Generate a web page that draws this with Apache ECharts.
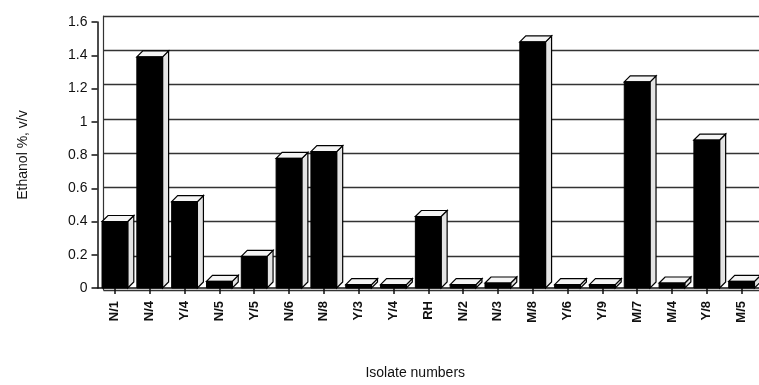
<!DOCTYPE html>
<html>
<head>
<meta charset="utf-8">
<script src="https://cdn.jsdelivr.net/npm/echarts@6/dist/echarts.min.js"></script>
<style>html,body{margin:0;padding:0;background:#fff}#c{width:759px;height:385px}</style>
</head>
<body>
<div id="c"></div>
<script>
const categories = ['N/1','N/4','Y/4','N/5','Y/5','N/6','N/8','Y/3','Y/4','RH','N/2','N/3','M/8','Y/6','Y/9','M/7','M/4','Y/8','M/5'];
const ethanol = [0.40,1.39,0.52,0.04,0.19,0.78,0.82,0.02,0.02,0.43,0.02,0.03,1.48,0.02,0.02,1.24,0.03,0.89,0.04];
const yTicks = [0,0.2,0.4,0.6,0.8,1,1.2,1.4,1.6];
const yName = 'Ethanol %, v/v';
const xName = 'Isolate numbers';

const font = 'Liberation Sans, Arial, sans-serif';
const DX = 6, DY = 6;

const chart = echarts.init(document.getElementById('c'), null, {renderer:'canvas'});
chart.setOption({
  animation:false,
  backgroundColor:'#fff',
  grid:[
    {left:97.5, right:0, top:22, bottom:89, containLabel:false},
    {left:97.5+DX, right:-DX, top:22-DY, bottom:89+DY, containLabel:false}
  ],
  xAxis:[
    {type:'category', gridIndex:0, data:categories,
     axisLine:{show:true, lineStyle:{color:'#111', width:1.5}},
     axisTick:{show:true, alignWithLabel:true, length:6, lineStyle:{color:'#111', width:1.5}},
     axisLabel:{rotate:90, margin:13, fontFamily:font, fontSize:13, fontWeight:'bold', color:'#111'},
     name:xName, nameLocation:'middle', nameGap:78,
     nameTextStyle:{fontFamily:font, fontSize:14, color:'#111', padding:[0,26,0,0]}},
    {type:'category', gridIndex:1, data:categories, show:false}
  ],
  yAxis:[
    {type:'value', gridIndex:0, min:yTicks[0], max:yTicks[yTicks.length-1], interval:0.2,
     axisLine:{show:true, lineStyle:{color:'#111', width:1.5}},
     axisTick:{show:true, length:6, lineStyle:{color:'#111', width:1.5}},
     splitLine:{show:false},
     axisLabel:{margin:10, fontFamily:font, fontSize:14, color:'#111', padding:[6,0,0,0],
       formatter:v=>String(Math.round(v*10)/10)},
     name:yName, nameLocation:'middle', nameGap:67,
     nameTextStyle:{fontFamily:font, fontSize:14, color:'#111'}},
    {type:'value', gridIndex:1, min:yTicks[0], max:yTicks[yTicks.length-1], interval:0.2,
     axisLine:{show:true, lineStyle:{color:'#333', width:1.2}},
     axisTick:{show:false}, axisLabel:{show:false},
     splitLine:{show:true, lineStyle:{color:'#333', width:1.3}}}
  ],
  series:[{
    type:'custom', xAxisIndex:0, yAxisIndex:0,
    data:ethanol.map((v,i)=>[i,v]),
    renderItem:function(params, api){
      const top = api.coord([api.value(0), api.value(1)]);
      const base = api.coord([api.value(0), 0]);
      const bw = api.size([1,0])[0]*0.74;
      const x0 = top[0]-bw/2, x1 = top[0]+bw/2, yt = top[1], yb = base[1];
      const ls = {stroke:'#000', lineWidth:1.2};
      return {type:'group', children:[
        {type:'polygon', shape:{points:[[x1,yt],[x1+DX,yt-DY],[x1+DX,yb-DY],[x1,yb]]},
         style:Object.assign({fill:'#e4e4e4'}, ls)},
        {type:'polygon', shape:{points:[[x0,yt],[x0+DX,yt-DY],[x1+DX,yt-DY],[x1,yt]]},
         style:Object.assign({fill:'#f4f4f4'}, ls)},
        {type:'rect', shape:{x:x0, y:yt, width:bw, height:yb-yt},
         style:{fill:'#000', stroke:'#000', lineWidth:1}}
      ]};
    }
  }]
});
</script>
</body>
</html>
